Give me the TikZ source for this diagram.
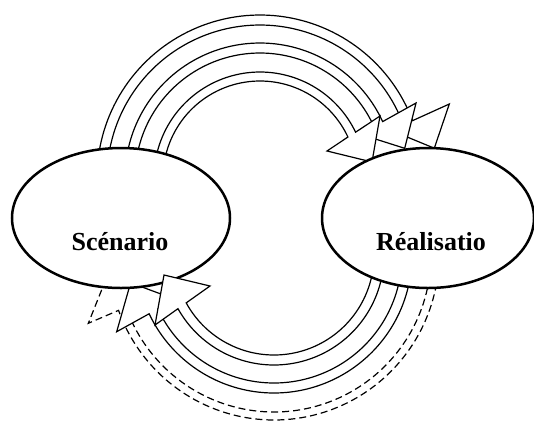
\documentclass[tikz,border=0pt]{standalone}
\usepackage{fontspec}
\setmainfont{Liberation Serif}
\usetikzlibrary{shapes.geometric}
\tikzset{
  blockarrow/.style={draw=black, fill=white, line width=1.2pt, line join=miter},
  dashedarrow/.style={blockarrow, dash pattern=on 7pt off 4pt},
  bubble/.style={ellipse, draw=black, fill=white, line width=2.5pt, inner sep=0pt},
  lbl/.style={font=\fontsize{26}{30}\selectfont\bfseries, inner sep=0pt}
}
\begin{document}
\begin{tikzpicture}[x=1pt,y=-1pt]
\useasboundingbox (0,0) rectangle (534,421);
% ---- head points, top arrows (centre 260,178)
\coordinate (Aw) at (449.3,104);   \coordinate (At) at (434.3,148.2); \coordinate (Ai) at (391.1,130.4);
\coordinate (Bw) at (416,103);     \coordinate (Bt) at (404.7,148.3); \coordinate (Bi) at (360.2,134.2);
\coordinate (Cw) at (380,116);     \coordinate (Ct) at (372,162);     \coordinate (Ci) at (327,151);
% ---- head points, bottom arrows (centre 274,255)
\coordinate (Dw) at (155,325);     \coordinate (Dt) at (164,275);     \coordinate (Di) at (210,286);
\coordinate (Ew) at (116.7,331.7); \coordinate (Et) at (130.6,282.8); \coordinate (Ei) at (175.3,299.3);
\coordinate (Fw) at (88.3,323.3);  \coordinate (Ft) at (107.2,276.1); \coordinate (Fi) at (150,297.1);
% ---- top arrows
\draw[blockarrow] plot[domain=175:20.6,samples=80] ({260+163*cos(\x)},{178-163*sin(\x)})
  -- (Aw) -- (At) -- (Ai)
  -- plot[domain=20.35:175,samples=80] ({260+153*cos(\x)},{178-153*sin(\x)}) -- cycle;
\draw[blockarrow] plot[domain=175:24.7,samples=80] ({260+135*cos(\x)},{178-135*sin(\x)})
  -- (Bw) -- (Bt) -- (Bi)
  -- plot[domain=24.3:175,samples=80] ({260+125*cos(\x)},{178-125*sin(\x)}) -- cycle;
\draw[blockarrow] plot[domain=175:25.6,samples=80] ({260+106*cos(\x)},{178-106*sin(\x)})
  -- (Cw) -- (Ct) -- (Ci)
  -- plot[domain=25.0:175,samples=80] ({260+97*cos(\x)},{178-97*sin(\x)}) -- cycle;
% ---- bottom arrows under the left ellipse
\draw[dashedarrow] plot[domain=-10:-160.4,samples=80] ({274+165*cos(\x)},{255-165*sin(\x)})
  -- (Fw) -- (Ft) -- (Fi)
  -- plot[domain=-160.5:-10,samples=80] ({274+157*cos(\x)},{255-157*sin(\x)}) -- cycle;
\draw[blockarrow] plot[domain=-10:-154.8,samples=80] ({274+138*cos(\x)},{255-138*sin(\x)})
  -- (Ew) -- (Et) -- (Ei)
  -- plot[domain=-155.1:-10,samples=80] ({274+128*cos(\x)},{255-128*sin(\x)}) -- cycle;
% ---- left ellipse
\node[bubble, minimum width=218pt, minimum height=140pt] (scen) at (121,218) {};
\node[lbl, anchor=base] (scentxt) at (120,250) {Scénario};
% ---- bottom arrow over the left ellipse
\draw[blockarrow] plot[domain=-10:-150.8,samples=80] ({274+110*cos(\x)},{255-110*sin(\x)})
  -- (Dw) -- (Dt) -- (Di)
  -- plot[domain=-151.4:-10,samples=80] ({274+100*cos(\x)},{255-100*sin(\x)}) -- cycle;
% ---- right ellipse
\node[bubble, minimum width=212pt, minimum height=140pt] (real) at (428,218) {};
\node[lbl, anchor=base] (realtxt) at (431,250) {Réalisatio};
\end{tikzpicture}
\end{document}
